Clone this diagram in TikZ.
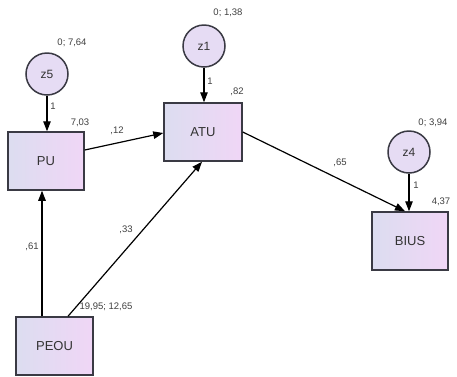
\documentclass[tikz,border=0pt]{standalone}
\usepackage{fontspec}
\setmainfont{Liberation Sans}
\usetikzlibrary{arrows.meta,calc}
\definecolor{edgecol}{HTML}{3A3A44}
\definecolor{boxleft}{HTML}{DCDDF0}
\definecolor{boxright}{HTML}{F0D6F6}
\definecolor{circfill}{HTML}{E6DCF4}
\tikzset{
  varbox/.style={rectangle, draw=edgecol, line width=1.5pt, left color=boxleft, right color=boxright,
    minimum width=76pt, minimum height=58pt, inner sep=0pt, font=\fontsize{13}{14}\selectfont, text=black!80},
  errcirc/.style={circle, draw=edgecol, line width=1.5pt, fill=circfill, minimum size=42pt, inner sep=0pt,
    font=\fontsize{12}{13}\selectfont, text=black!80},
  lab/.style={font=\fontsize{9.5}{10}\selectfont, text=black!75, inner sep=0pt},
  path/.style={draw=black, line width=1.2pt, -{Triangle[length=10pt,width=7.5pt]}}
}
\begin{document}
\begin{tikzpicture}[x=1pt,y=-1pt]
\useasboundingbox (0,0) rectangle (457,376);
\fill[white] (0,0) rectangle (457,376);
% boxes
\node[varbox] (PU) at (46,161) {PU};
\node[varbox, minimum width=78pt] (ATU) at (203,132) {ATU};
\node[varbox] (BIUS) at (410,241) {BIUS};
\node[varbox, minimum width=77pt] (PEOU) at (54.5,346) {PEOU};
% error circles
\node[errcirc] (z5) at (47,74) {z5};
\node[errcirc] (z1) at (204,46) {z1};
\node[errcirc] (z4) at (409,152) {z4};
% paths
\draw[path] (z5) -- (z5 |- PU.north);
\draw[path] (z1) -- (z1 |- ATU.north);
\draw[path] (z4) -- (z4 |- BIUS.north);
\draw[path] ($(PU.east)+(0,-11)$) -- ($(ATU.west)+(0,1)$);
\draw[path] ($(PEOU.north)+(-12.5,0)$) -- ($(PU.south)+(-4,0)$);
\draw[path] ($(PEOU.north)+(13.5,0)$) -- ($(ATU.south)+(-1,0)$);
\draw[path] (ATU.east) -- ($(BIUS.north)+(-5,0)$);
% labels
\node[lab] (l1) at (72,43) {0; 7,64};
\node[lab] (l2) at (53,106) {1};
\node[lab] (l3) at (80,123) {7,03};
\node[lab] (l4) at (117,131) {,12};
\node[lab] (l5) at (228,13) {0; 1,38};
\node[lab] (l6) at (210,81) {1};
\node[lab] (l7) at (237,92) {,82};
\node[lab] (l8) at (340,163) {,65};
\node[lab] (l9) at (433,123) {0; 3,94};
\node[lab] (l10) at (416,185) {1};
\node[lab] (l11) at (441,202) {4,37};
\node[lab] (l12) at (32,247) {,61};
\node[lab] (l13) at (126,230) {,33};
\node[lab] (l14) at (106,307) {19,95; 12,65};
\end{tikzpicture}
\end{document}
